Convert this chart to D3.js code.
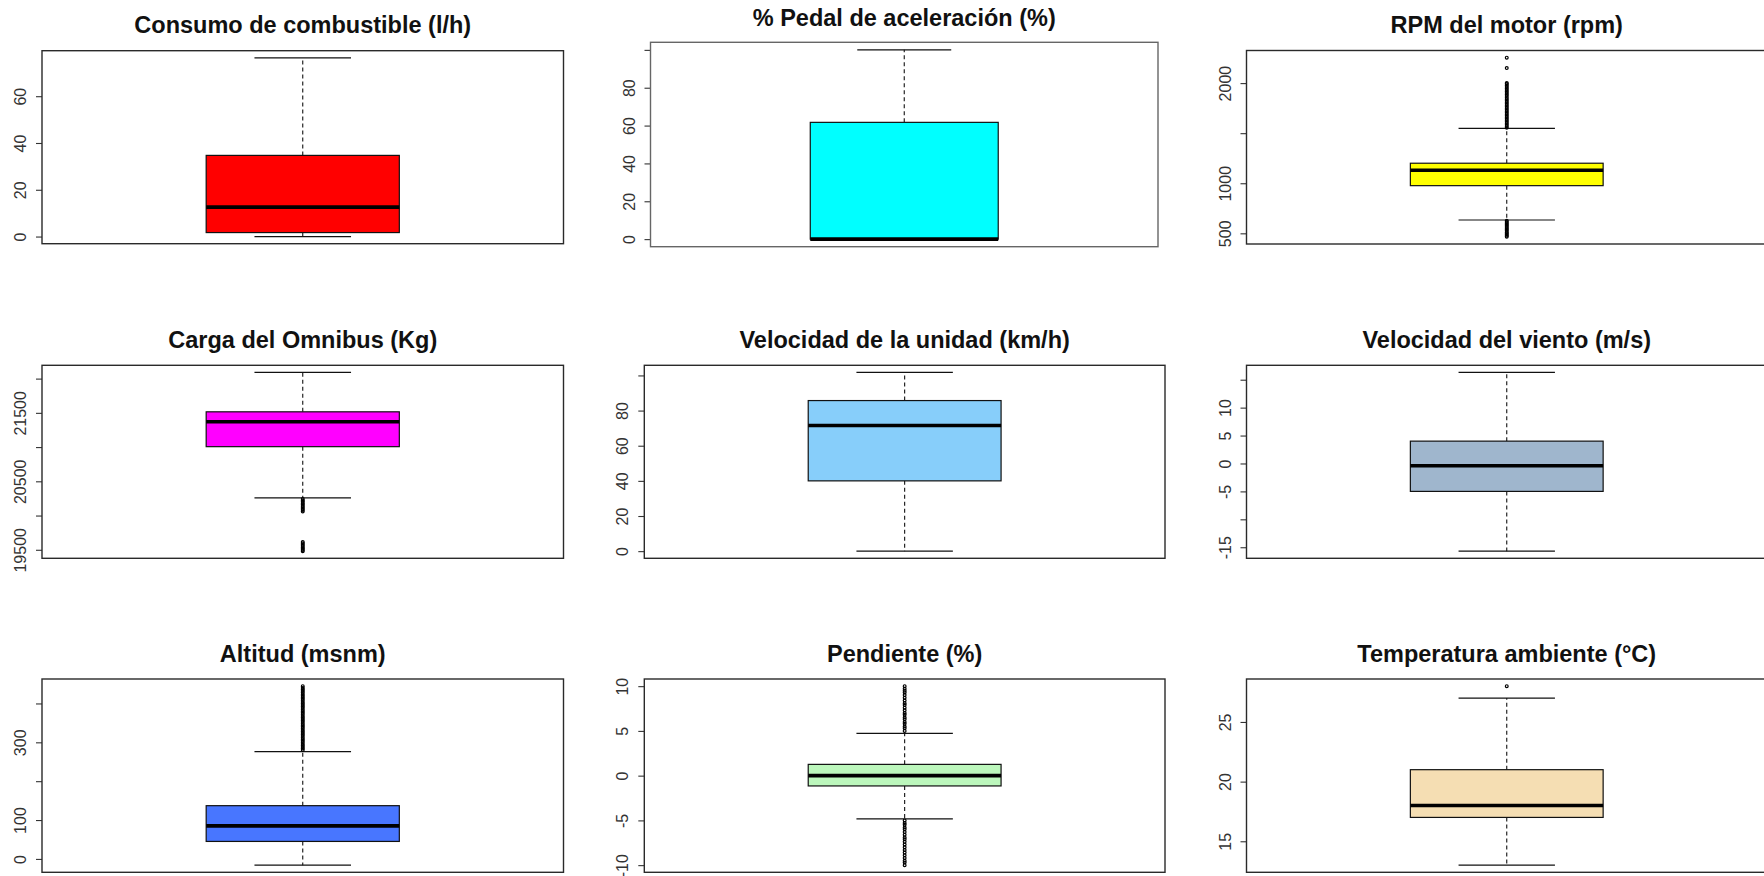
<!DOCTYPE html>
<html>
<head>
<meta charset="utf-8">
<script src="https://cdn.jsdelivr.net/npm/d3@7"></script>
<style>
  html, body { margin: 0; padding: 0; background: #ffffff; }
  svg { display: block; }
  text { font-family: "Liberation Sans", Arial, Helvetica, sans-serif; }
</style>
</head>
<body>
<svg id="chart" width="1764" height="876"></svg>
<script>
// ---- Summary statistics for each variable (one box per panel) ----
const titles = [
  "Consumo de combustible (l/h)",
  "% Pedal de aceleración (%)",
  "RPM del motor (rpm)",
  "Carga del Omnibus (Kg)",
  "Velocidad de la unidad (km/h)",
  "Velocidad del viento (m/s)",
  "Altitud (msnm)",
  "Pendiente (%)",
  "Temperatura ambiente (°C)"
];

const whiskerLow  = [0,    0,    633,  20257, 0,     -15.7, -16, -4.84, 13];
const q1          = [1.7,  0,    976,  21006, 40,    -5,    45,  -1.15, 17];
const medians     = [12.6, 0,    1130, 21369, 71.5,  -0.4,  85,  0,     18];
const q3          = [34.7, 61.7, 1200, 21515, 85.7,  4,     137, 1.26,  21];
const whiskerHigh = [76.4, 100,  1547, 22090, 101.7, 16.3,  276, 4.73,  27];

const outliers = [
  [],
  [],
  [1555, 1570, 1585, 1600, 1615, 1630, 1645, 1660, 1675, 1690, 1705, 1720, 1735,
   1750, 1765, 1780, 1795, 1810, 1825, 1840, 1855, 1870, 1885, 1900, 1915, 1930,
   1945, 1960, 1975, 1990, 2000,
   2150, 2254,
   625, 612, 600, 588, 575, 562, 550, 538, 525, 512, 500, 488, 476, 465],
  [20240, 20220, 20200, 20180, 20160, 20140, 20120, 20100, 20080, 20060,
   19615, 19595, 19575, 19555, 19535, 19515, 19495, 19480],
  [],
  [],
  [280, 284, 288, 292, 296, 300, 304, 308, 312, 316, 320, 324, 328, 332, 336, 340,
   344, 348, 352, 356, 360, 364, 368, 372, 376, 380, 384, 388, 392, 396, 400, 404,
   408, 412, 416, 420, 424, 428, 432, 436, 440, 444.5],
  [5.0, 5.3, 5.5, 5.8, 6.0, 6.3, 6.5, 6.8, 7.0, 7.3, 7.6, 7.9, 8.1, 8.4, 8.7, 9.0,
   9.3, 9.5, 9.7, 10.0,
   -5.0, -5.3, -5.5, -5.8, -6.0, -6.3, -6.6, -6.9, -7.1, -7.4, -7.7, -8.0, -8.3,
   -8.6, -8.9, -9.2, -9.5, -9.7, -10.0],
  [28]
];

const tickValues = [
  [0, 20, 40, 60],
  [0, 20, 40, 60, 80, 100],
  [500, 1000, 1500, 2000],
  [19500, 20000, 20500, 21000, 21500, 22000],
  [0, 20, 40, 60, 80, 100],
  [-15, -10, -5, 0, 5, 10, 15],
  [0, 100, 200, 300, 400],
  [-10, -5, 0, 5, 10],
  [15, 20, 25]
];

const tickLabels = [
  ["0", "20", "40", "60"],
  ["0", "20", "40", "60", "80", ""],
  ["500", "1000", "", "2000"],
  ["19500", "", "20500", "", "21500", ""],
  ["0", "20", "40", "60", "80", ""],
  ["-15", "", "-5", "0", "5", "10", ""],
  ["0", "100", "", "300", ""],
  ["-10", "-5", "0", "5", "10"],
  ["15", "20", "25"]
];

// ---- Appearance ----
const fillColors = ["#FF0000", "#00FFFF", "#FFFF00", "#FF00FF", "#87CEFA",
                    "#9FB6CD", "#4876FF", "#BCF7BC", "#F5DEB3"];

// Plot frames (pixel layout of each panel)
const frames = [
  {left: 42,    right: 563.5, top: 50.7,  bottom: 243.7, titleY: 33.3,  ink: "#2a2a2a"},
  {left: 650.5, right: 1158,  top: 42.3,  bottom: 246.7, titleY: 26,    ink: "#666666"},
  {left: 1246.5,right: 1767,  top: 50.5,  bottom: 244,   titleY: 33.3,  ink: "#2a2a2a"},
  {left: 42,    right: 563.5, top: 365.3, bottom: 558.3, titleY: 348.3, ink: "#2a2a2a"},
  {left: 644.3, right: 1165,  top: 365.3, bottom: 558.3, titleY: 348.3, ink: "#2a2a2a"},
  {left: 1246.5,right: 1767,  top: 365.3, bottom: 558.3, titleY: 348.3, ink: "#2a2a2a"},
  {left: 42,    right: 563.5, top: 679,   bottom: 872.3, titleY: 661.7, ink: "#2a2a2a"},
  {left: 644.3, right: 1165,  top: 679,   bottom: 872.3, titleY: 661.7, ink: "#2a2a2a"},
  {left: 1246.5,right: 1767,  top: 679,   bottom: 872.3, titleY: 661.7, ink: "#2a2a2a"}
];

const svg = d3.select("#chart");

titles.forEach((title, i) => {
  const f = frames[i];
  const g = svg.append("g");

  // value range including outliers, padded by 4% on each side
  const lo = d3.min([whiskerLow[i], ...outliers[i]]);
  const hi = d3.max([whiskerHigh[i], ...outliers[i]]);
  const pad = (hi - lo) * 0.04;

  const y = d3.scaleLinear().domain([lo - pad, hi + pad]).range([f.bottom, f.top]);
  const x = d3.scaleLinear().domain([0.46, 1.54]).range([f.left, f.right]);

  const cx = x(1);

  // whiskers (dashed)
  g.append("line")
    .attr("x1", cx).attr("x2", cx)
    .attr("y1", y(q3[i])).attr("y2", y(whiskerHigh[i]))
    .attr("stroke", "#111").attr("stroke-width", 1.1)
    .attr("stroke-dasharray", "4,3");
  g.append("line")
    .attr("x1", cx).attr("x2", cx)
    .attr("y1", y(q1[i])).attr("y2", y(whiskerLow[i]))
    .attr("stroke", "#111").attr("stroke-width", 1.1)
    .attr("stroke-dasharray", "4,3");

  // staples
  [whiskerLow[i], whiskerHigh[i]].forEach(v => {
    g.append("line")
      .attr("x1", x(0.9)).attr("x2", x(1.1))
      .attr("y1", y(v)).attr("y2", y(v))
      .attr("stroke", "#111").attr("stroke-width", 1.2);
  });

  // box
  g.append("rect")
    .attr("x", x(0.8))
    .attr("width", x(1.2) - x(0.8))
    .attr("y", y(q3[i]))
    .attr("height", Math.max(0, y(q1[i]) - y(q3[i])))
    .attr("fill", fillColors[i])
    .attr("stroke", "#111").attr("stroke-width", 1.2);

  // median
  g.append("line")
    .attr("x1", x(0.8)).attr("x2", x(1.2))
    .attr("y1", y(medians[i])).attr("y2", y(medians[i]))
    .attr("stroke", "#000").attr("stroke-width", 3.6);

  // outliers
  g.selectAll("circle.out")
    .data(outliers[i])
    .join("circle")
    .attr("class", "out")
    .attr("cx", cx)
    .attr("cy", d => y(d))
    .attr("r", 1.4)
    .attr("fill", "none")
    .attr("stroke", "#000")
    .attr("stroke-width", 1.2);

  // y axis with rotated labels
  const axis = g.append("g")
    .attr("transform", `translate(${f.left},0)`)
    .call(d3.axisLeft(y)
      .tickValues(tickValues[i])
      .tickSize(6)
      .tickFormat((d, k) => tickLabels[i][k]));
  axis.select(".domain").remove();
  axis.selectAll(".tick line").attr("stroke", "#333").attr("stroke-width", 1.1);
  axis.selectAll(".tick text")
    .attr("transform", "rotate(-90)")
    .attr("x", 0)
    .attr("y", -16)
    .attr("dy", null)
    .attr("text-anchor", "middle")
    .attr("fill", "#333")
    .style("font-size", "16px")
    .style("font-family", "\"Liberation Sans\", Arial, sans-serif");

  // plot border
  g.append("rect")
    .attr("x", f.left).attr("y", f.top)
    .attr("width", f.right - f.left)
    .attr("height", f.bottom - f.top)
    .attr("fill", "none")
    .attr("stroke", f.ink)
    .attr("stroke-width", 1.4);

  // title
  g.append("text")
    .attr("x", (f.left + f.right) / 2)
    .attr("y", f.titleY)
    .attr("text-anchor", "middle")
    .attr("font-weight", "bold")
    .attr("font-size", 23.5)
    .attr("fill", "#111")
    .text(title);
});
</script>
</body>
</html>
